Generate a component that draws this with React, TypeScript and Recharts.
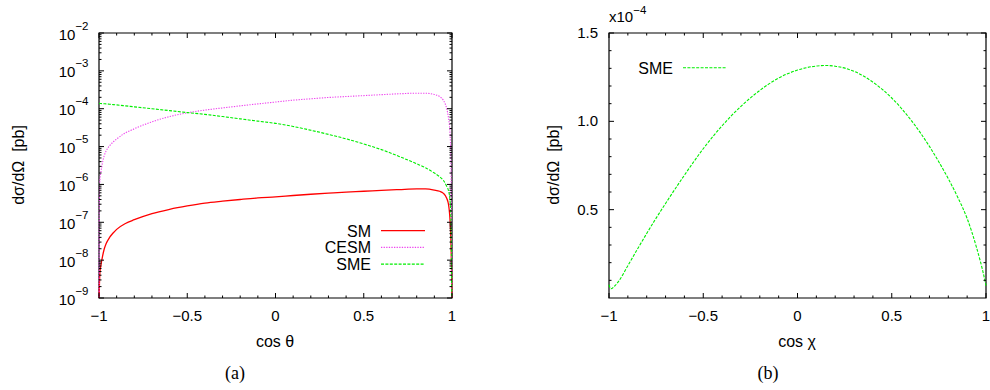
import React from 'react';
import { LineChart, Line, XAxis, YAxis, ReferenceArea } from 'recharts';

// panel (a): dσ/dΩ vs cos θ, log scale, pb
const cosTheta = [-1, -0.999, -0.995, -0.99, -0.98, -0.97, -0.96, -0.94, -0.92, -0.9, -0.85, -0.8, -0.7, -0.6, -0.5, -0.4, -0.3, -0.2, -0.1, 0, 0.1, 0.2, 0.3, 0.4, 0.5, 0.6, 0.7, 0.8, 0.85, 0.9, 0.93, 0.95, 0.97, 0.98, 0.99, 0.995, 0.999, 1];
const smValues = [1e-12, 1e-9, 4.6e-9, 7e-9, 1.26e-8, 2.0e-8, 2.7e-8, 4.0e-8, 5.2e-8, 6.5e-8, 9.3e-8, 1.17e-7, 1.7e-7, 2.2e-7, 2.7e-7, 3.2e-7, 3.6e-7, 4.0e-7, 4.4e-7, 4.7e-7, 5.1e-7, 5.5e-7, 5.9e-7, 6.3e-7, 6.6e-7, 7.0e-7, 7.3e-7, 7.6e-7, 7.6e-7, 7.1e-7, 6.6e-7, 5.9e-7, 4.3e-7, 3.0e-7, 9e-8, 2e-8, 1e-9, 1e-12];
const cesmValues = [1e-12, 1.5e-7, 1.3e-6, 2.0e-6, 3.8e-6, 5.8e-6, 7.6e-6, 1.05e-5, 1.32e-5, 1.58e-5, 2.3e-5, 2.95e-5, 4.5e-5, 6.2e-5, 7.8e-5, 9.2e-5, 1.05e-4, 1.19e-4, 1.34e-4, 1.5e-4, 1.68e-4, 1.83e-4, 1.98e-4, 2.1e-4, 2.22e-4, 2.35e-4, 2.48e-4, 2.57e-4, 2.56e-4, 2.38e-4, 2.08e-4, 1.7e-4, 1.0e-4, 5.8e-5, 1.8e-5, 1.5e-6, 1e-9, 1e-12];
const smeValues = [1.38e-4, 1.38e-4, 1.37e-4, 1.37e-4, 1.36e-4, 1.35e-4, 1.34e-4, 1.31e-4, 1.28e-4, 1.26e-4, 1.19e-4, 1.12e-4, 1.0e-4, 8.9e-5, 7.9e-5, 7.1e-5, 6.2e-5, 5.4e-5, 4.7e-5, 4.1e-5, 3.4e-5, 2.7e-5, 2.1e-5, 1.6e-5, 1.17e-5, 8.3e-6, 5.5e-6, 3.5e-6, 2.75e-6, 2.0e-6, 1.6e-6, 1.3e-6, 8.9e-7, 6.9e-7, 3.2e-7, 6.3e-8, 1e-10, 1e-12];

// panel (b): dσ/dΩ vs cos χ, in units of 1e-4 pb
const cosChi = [-1, -0.99, -0.97, -0.95, -0.9, -0.85, -0.8, -0.75, -0.7, -0.6, -0.5, -0.4, -0.3, -0.2, -0.1, 0, 0.1, 0.15, 0.2, 0.3, 0.4, 0.5, 0.6, 0.7, 0.75, 0.8, 0.85, 0.9, 0.95, 0.99, 1];
const smeChiValues = [0.075, 0.052, 0.068, 0.093, 0.183, 0.275, 0.365, 0.452, 0.535, 0.695, 0.845, 0.975, 1.085, 1.175, 1.245, 1.29, 1.313, 1.316, 1.312, 1.283, 1.222, 1.132, 1.01, 0.858, 0.77, 0.675, 0.57, 0.45, 0.285, 0.12, 0.07];

const xTicks = [-1, -0.9, -0.8, -0.7, -0.6, -0.5, -0.4, -0.3, -0.2, -0.1, 0, 0.1, 0.2, 0.3, 0.4, 0.5, 0.6, 0.7, 0.8, 0.9, 1];
const xMajor = [-1, -0.5, 0, 0.5, 1];
const decades = [-9, -8, -7, -6, -5, -4, -3, -2];
const logTicks = decades.flatMap((d) => (d === -2 ? [1e-2] : [1, 2, 3, 4, 5, 6, 7, 8, 9].map((m) => m * Math.pow(10, d))));
const linTicks = [0.1, 0.2, 0.3, 0.4, 0.5, 0.6, 0.7, 0.8, 0.9, 1.0, 1.1, 1.2, 1.3, 1.4, 1.5];
const linMajor = [0.5, 1.0, 1.5];

const dataA = cosTheta.map((c, i) => ({ c, sm: smValues[i], cesm: cesmValues[i], sme: smeValues[i] }));
const dataB = cosChi.map((c, i) => ({ c, sme: smeChiValues[i] }));

const FONT = '"Liberation Sans", Arial, Helvetica, sans-serif';
const MAJOR = 5;
const MINOR = 2.5;

const series = [
  { key: 'sm', name: 'SM', color: '#ff0000', dash: undefined as string | undefined, width: 1.3 },
  { key: 'cesm', name: 'CESM', color: '#ee44ee', dash: '1.3 1.3', width: 1.1 },
  { key: 'sme', name: 'SME', color: '#00ee00', dash: '3 1.4', width: 1.1 },
];

type Frame = { left: number; right: number; top: number; bottom: number };
const FRAME_A: Frame = { left: 99, right: 452, top: 33, bottom: 298 };
const FRAME_B: Frame = { left: 114, right: 491, top: 33, bottom: 298 };

const near = (list: number[], v: number) => list.some((m) => Math.abs(m - v) < 1e-9);
const fmtX = (v: number) => (v < 0 ? '\u2212' + String(-v) : String(v));

const makeXTick = (f: Frame) => (props: any) => {
  const { x, payload } = props;
  const major = near(xMajor, payload.value);
  const len = major ? MAJOR : MINOR;
  return (
    <g>
      <line x1={x} x2={x} y1={f.bottom} y2={f.bottom - len} stroke="#000" />
      <line x1={x} x2={x} y1={f.top} y2={f.top + len} stroke="#000" />
      {major && (
        <text x={x} y={f.bottom + 23} textAnchor="middle" fontSize={15} fontFamily={FONT} fill="#000">
          {fmtX(payload.value)}
        </text>
      )}
    </g>
  );
};

const LogYTick = (props: any) => {
  const { y, payload } = props;
  const f = FRAME_A;
  const lg = Math.log10(payload.value);
  const major = Math.abs(lg - Math.round(lg)) < 1e-6;
  const len = major ? MAJOR : MINOR;
  return (
    <g>
      <line x1={f.left} x2={f.left + len} y1={y} y2={y} stroke="#000" />
      <line x1={f.right - len} x2={f.right} y1={y} y2={y} stroke="#000" />
      {major && (
        <text x={f.left - 10.5} y={y + 6.5} textAnchor="end" fontSize={15} fontFamily={FONT} fill="#000">
          10
          <tspan dy={-10} fontSize={11.5}>{'\u2212' + String(-Math.round(lg))}</tspan>
        </text>
      )}
    </g>
  );
};

const LinYTick = (props: any) => {
  const { y, payload } = props;
  const f = FRAME_B;
  const major = near(linMajor, payload.value);
  const len = major ? MAJOR : MINOR;
  return (
    <g>
      <line x1={f.left} x2={f.left + len} y1={y} y2={y} stroke="#000" />
      <line x1={f.right - len} x2={f.right} y1={y} y2={y} stroke="#000" />
      {major && (
        <text x={f.left - 11} y={y + 5} textAnchor="end" fontSize={15} fontFamily={FONT} fill="#000">
          {payload.value.toFixed(1)}
        </text>
      )}
    </g>
  );
};

const txt = { fontFamily: FONT, fontSize: 16, fill: '#000' } as const;

const Overlay = () => (
  <svg width={990} height={390} style={{ position: 'absolute', left: 0, top: 0, pointerEvents: 'none' }}>
    <text {...txt} transform="translate(18.5,165) rotate(-90)" textAnchor="middle" dominantBaseline="central" style={{ whiteSpace: 'pre' }}>
      {'dσ/dΩ  [pb]'}
    </text>
    <text {...txt} transform="translate(553,165) rotate(-90)" textAnchor="middle" dominantBaseline="central" style={{ whiteSpace: 'pre' }}>
      {'dσ/dΩ  [pb]'}
    </text>
    <text {...txt} x={275} y={346.5} textAnchor="middle">cos θ</text>
    <text {...txt} x={797} y={346.5} textAnchor="middle">cos χ</text>
    <text x={235} y={379} textAnchor="middle" fontFamily='"Liberation Serif", "DejaVu Serif", serif' fontSize={18}>(a)</text>
    <text x={768} y={379} textAnchor="middle" fontFamily='"Liberation Serif", "DejaVu Serif", serif' fontSize={18}>(b)</text>
    {series.map((s, i) => (
      <g key={s.key}>
        <text {...txt} x={371} y={236.5 + i * 16.7} textAnchor="end">{s.name}</text>
        <line x1={381} x2={425} y1={230.7 + i * 16.7} y2={230.7 + i * 16.7} stroke={s.color} strokeWidth={s.width} strokeDasharray={s.dash} />
      </g>
    ))}
    <text {...txt} x={673} y={73.5} textAnchor="end">SME</text>
    <line x1={683} x2={727} y1={67.7} y2={67.7} stroke={series[2].color} strokeWidth={1.1} strokeDasharray={series[2].dash} />
    <text {...txt} fontSize={15} x={609} y={21.7}>
      x10
      <tspan dy={-8} fontSize={11.5}>{'\u2212'}4</tspan>
    </text>
  </svg>
);

export default function App() {
  return (
    <div style={{ position: 'absolute', left: 0, top: 0, width: 990, height: 390, background: '#fff' }}>
      <div style={{ position: 'absolute', left: 0, top: 0 }}>
        <LineChart width={470} height={390} data={dataA} margin={{ top: 33, right: 18, bottom: 62, left: 49 }}>
          <XAxis
            dataKey="c"
            type="number"
            domain={[-1, 1]}
            ticks={xTicks}
            interval={0}
            height={30}
            axisLine={false}
            tickLine={false}
            tickSize={0}
            tick={makeXTick(FRAME_A)}
          />
          <YAxis
            type="number"
            scale="log"
            domain={[1e-9, 1e-2]}
            allowDataOverflow
            ticks={logTicks}
            interval={0}
            width={50}
            axisLine={false}
            tickLine={false}
            tickSize={0}
            tick={LogYTick}
          />
          <ReferenceArea x1={-1} x2={1} y1={1e-9} y2={1e-2} fill="none" stroke="#000" strokeWidth={1.2} />
          {series.map((s) => (
            <Line
              key={s.key}
              dataKey={s.key}
              name={s.name}
              type="monotone"
              stroke={s.color}
              strokeWidth={s.width}
              strokeDasharray={s.dash}
              dot={false}
              activeDot={false}
              isAnimationActive={false}
            />
          ))}
        </LineChart>
      </div>
      <div style={{ position: 'absolute', left: 495, top: 0 }}>
        <LineChart width={495} height={390} data={dataB} margin={{ top: 33, right: 4, bottom: 62, left: 64 }}>
          <XAxis
            dataKey="c"
            type="number"
            domain={[-1, 1]}
            ticks={xTicks}
            interval={0}
            height={30}
            axisLine={false}
            tickLine={false}
            tickSize={0}
            tick={makeXTick(FRAME_B)}
          />
          <YAxis
            type="number"
            domain={[0, 1.5]}
            allowDataOverflow
            ticks={linTicks}
            interval={0}
            width={50}
            axisLine={false}
            tickLine={false}
            tickSize={0}
            tick={LinYTick}
          />
          <ReferenceArea x1={-1} x2={1} y1={0} y2={1.5} fill="none" stroke="#000" strokeWidth={1.2} />
          <Line
            dataKey="sme"
            name="SME"
            type="monotone"
            stroke={series[2].color}
            strokeWidth={1.1}
            strokeDasharray={series[2].dash}
            dot={false}
            activeDot={false}
            isAnimationActive={false}
          />
        </LineChart>
      </div>
      <Overlay />
    </div>
  );
}
